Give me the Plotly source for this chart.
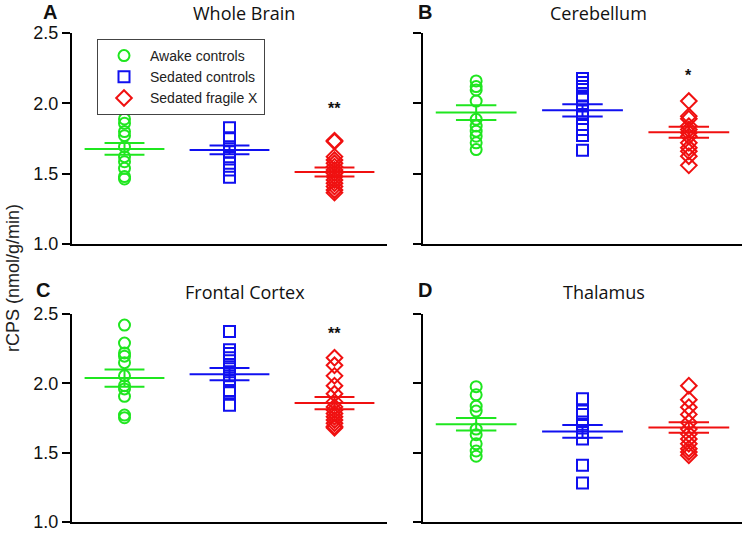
import plotly.graph_objects as go

groups = ["Awake controls", "Sedated controls", "Sedated fragile X"]
colors = ["#1fe61f", "#1010f0", "#f01010"]
symbols = ["circle-open", "square-open", "diamond-open"]
panels = ["Whole Brain", "Cerebellum", "Frontal Cortex", "Thalamus"]
letters = ["A", "B", "C", "D"]
stars = ["**", "*", "**", ""]

# individual values per panel, per group
wb_awake = [1.889, 1.858, 1.799, 1.770, 1.692, 1.621, 1.585, 1.538, 1.479, 1.462]
wb_sed = [1.827, 1.756, 1.692, 1.656, 1.621, 1.574, 1.526, 1.474]
wb_fx = [1.728, 1.735, 1.621, 1.597, 1.574, 1.550, 1.526, 1.503, 1.479, 1.455, 1.432, 1.408, 1.384, 1.365]
cb_awake = [2.159, 2.119, 2.095, 2.016, 1.886, 1.838, 1.802, 1.766, 1.719, 1.671]
cb_sed = [2.176, 2.148, 2.119, 2.052, 2.029, 1.981, 1.945, 1.921, 1.850, 1.814, 1.771, 1.666]
cb_fx = [2.016, 1.909, 1.891, 1.838, 1.814, 1.790, 1.766, 1.719, 1.684, 1.659, 1.624, 1.559]
fc_awake = [2.420, 2.290, 2.219, 2.196, 2.149, 2.054, 1.983, 1.960, 1.906, 1.771, 1.752]
fc_sed = [2.373, 2.243, 2.215, 2.184, 2.120, 2.083, 2.054, 2.019, 1.948, 1.932, 1.842]
fc_fx = [2.184, 2.130, 2.054, 1.983, 1.925, 1.866, 1.830, 1.807, 1.783, 1.759, 1.736, 1.712, 1.689, 1.680]
th_awake = [1.976, 1.917, 1.835, 1.800, 1.670, 1.630, 1.564, 1.512, 1.474]
th_sed = [1.889, 1.800, 1.776, 1.705, 1.646, 1.599, 1.410, 1.281]
th_fx = [1.983, 1.882, 1.828, 1.776, 1.717, 1.670, 1.634, 1.599, 1.564, 1.528, 1.505, 1.481]

values = [
    [wb_awake, wb_sed, wb_fx],
    [cb_awake, cb_sed, cb_fx],
    [fc_awake, fc_sed, fc_fx],
    [th_awake, th_sed, th_fx],
]
means = [
    [1.676, 1.669, 1.511],
    [1.934, 1.950, 1.795],
    [2.038, 2.066, 1.858],
    [1.705, 1.653, 1.682],
]
sems = [
    [0.042, 0.031, 0.032],
    [0.052, 0.043, 0.039],
    [0.062, 0.044, 0.044],
    [0.045, 0.046, 0.038],
]
star_y = [1.96, 2.20, 2.36, 0]
yticks = [1.0, 1.5, 2.0, 2.5]

W, H = 746, 533
xdom = [(72 / W, 387 / W), (423 / W, 742 / W)]
ydom = [(1 - 244 / H, 1 - 33 / H), (1 - 522 / H, 1 - 314 / H)]
title_x = [[244, 598], [245, 604]]
title_y = [13, 292]
letter_x = [[50, 425], [43, 425]]
letter_y = [12, 290]

fig = go.Figure()
MEAN_HW = 0.38
SEM_HW = 0.19

for p in range(4):
    r, c = divmod(p, 2)
    idx = "" if p == 0 else str(p + 1)
    xa, ya = "x" + idx, "y" + idx
    for g in range(3):
        xpos = g + 1
        vals = values[p][g]
        fig.add_trace(go.Scatter(
            x=[xpos] * len(vals), y=vals, mode="markers", xaxis=xa, yaxis=ya,
            name=groups[g], showlegend=(p == 0), legendgroup=groups[g],
            marker=dict(symbol=symbols[g], size=11 if g != 2 else 12, color=colors[g],
                        line=dict(width=2, color=colors[g])),
        ))
        m, s = means[p][g], sems[p][g]
        lx = [xpos - MEAN_HW, xpos + MEAN_HW, None, xpos - SEM_HW, xpos + SEM_HW, None,
              xpos - SEM_HW, xpos + SEM_HW, None, xpos, xpos]
        ly = [m, m, None, m + s, m + s, None, m - s, m - s, None, m + s, m - s]
        fig.add_trace(go.Scatter(
            x=lx, y=ly, mode="lines", xaxis=xa, yaxis=ya, showlegend=False,
            line=dict(color=colors[g], width=2), hoverinfo="skip",
        ))
    xkey = "xaxis" + idx
    ykey = "yaxis" + idx
    fig.layout[xkey] = dict(domain=xdom[c], range=[0.5, 3.5], showticklabels=False,
                            ticks="", showline=True, linecolor="black", linewidth=2,
                            showgrid=False, zeroline=False, anchor=ya, automargin=False)
    fig.layout[ykey] = dict(domain=ydom[r], range=[1.0, 2.5], tickvals=yticks,
                            ticktext=[f"{v:.1f}" for v in yticks],
                            showticklabels=(c == 0), ticks="outside", ticklen=8,
                            tickwidth=2, tickcolor="black",
                            showline=True, linecolor="black", linewidth=2,
                            showgrid=False, zeroline=False, anchor=xa, automargin=False,
                            ticklabeloverflow="allow",
                            tickfont=dict(family="Liberation Sans, Arial", size=18, color="#111"))
    fig.add_annotation(text=panels[p], xref="paper", yref="paper",
                       x=title_x[r][c] / W, y=1 - title_y[r] / H, showarrow=False,
                       xanchor="center", yanchor="middle",
                       font=dict(family="Open Sans, Liberation Sans", size=18, color="#111"))
    fig.add_annotation(text="<b>" + letters[p] + "</b>", xref="paper", yref="paper",
                       x=letter_x[r][c] / W, y=1 - letter_y[r] / H,
                       showarrow=False, xanchor="center", yanchor="middle",
                       font=dict(family="Liberation Sans, Arial", size=20, color="#111"))
    if stars[p]:
        fig.add_annotation(text="<b>" + stars[p] + "</b>", xref=xa, yref=ya, x=3, y=star_y[p],
                           showarrow=False, font=dict(family="Liberation Sans", size=16, color="#111"))

fig.add_annotation(text="rCPS (nmol/g/min)", xref="paper", yref="paper", x=13 / W, y=1 - 278 / H,
                   textangle=-90, showarrow=False, xanchor="center", yanchor="middle",
                   font=dict(family="Liberation Sans, Arial", size=18, color="#222"))

fig.update_layout(
    width=W, height=H, margin=dict(l=0, r=0, t=0, b=0, autoexpand=False),
    plot_bgcolor="white", paper_bgcolor="white",
    legend=dict(x=97 / W, y=1 - 39 / H, xanchor="left", yanchor="top",
                bordercolor="#444", borderwidth=1, bgcolor="white",
                font=dict(family="Liberation Sans, Arial", size=14, color="#222"),
                itemwidth=42, tracegroupgap=0),
    showlegend=True,
)

fig.write_html("out.html", config={"displayModeBar": False},
               post_script="document.body.style.margin='0';")
